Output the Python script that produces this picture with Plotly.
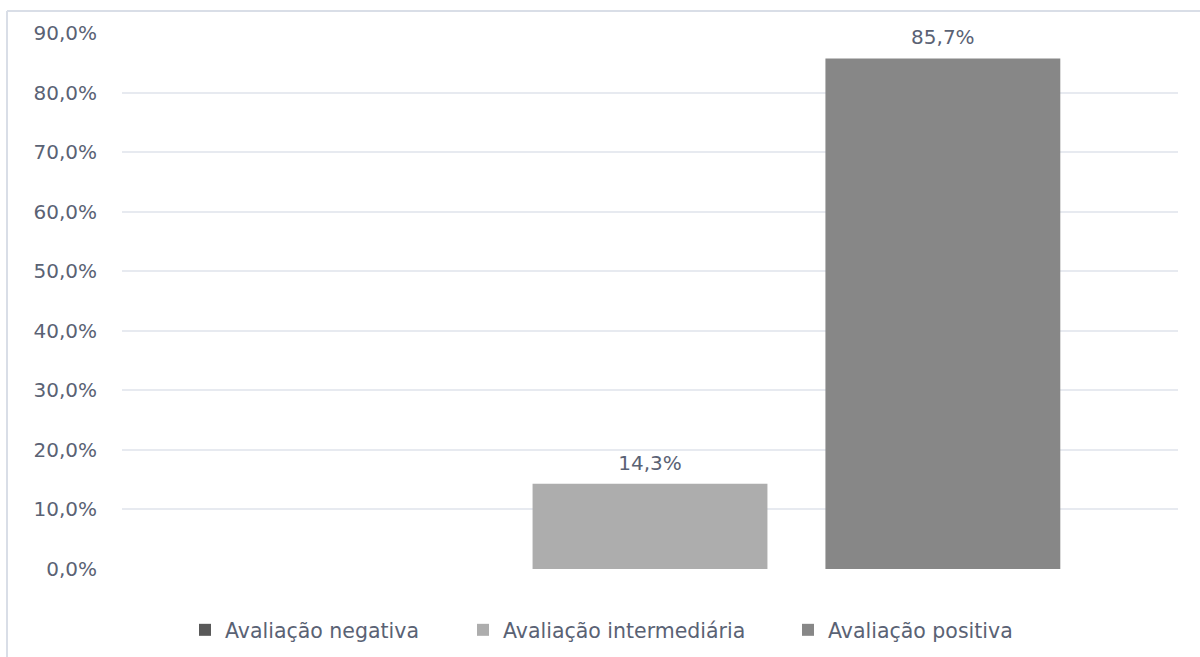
import plotly.graph_objects as go

# Survey outcome shares (fractions of respondents)
series_names = ["Avaliação negativa", "Avaliação intermediária", "Avaliação positiva"]
series_values = [0.0, 0.143, 0.857]
series_colors = ["#595959", "#adadad", "#878787"]
category = ["Avaliação"]

y_ticks = [i / 10 for i in range(10)]

# each series gets its own legend so the entries can be spaced individually
legend_ids = ["legend", "legend2", "legend3"]
legend_left_px = [185, 463, 788]

PLOT_L, PLOT_R, PLOT_T, PLOT_B = 122, 22, 33, 88
W, H = 1200, 657
plot_w = W - PLOT_L - PLOT_R
plot_h = H - PLOT_T - PLOT_B
TEXT = "#5a6274"
FONT = "DejaVu Sans"
BARGAP = 0.168

fig = go.Figure()
for name, val, col, lg in zip(series_names, series_values, series_colors, legend_ids):
    fig.add_trace(go.Bar(
        x=category,
        y=[val],
        name=name,
        legend=lg,
        marker=dict(color=col, line=dict(width=0)),
        hoverinfo="skip",
    ))

# value labels above the bars, grouped the same way as the bars
for name, val in zip(series_names, series_values):
    label = f"{val * 100:.1f}%".replace(".", ",") if val > 0 else ""
    fig.add_trace(go.Scatter(
        x=category,
        y=[val],
        mode="markers+text",
        text=[label],
        textposition="top center",
        marker=dict(size=13, opacity=0),
        textfont=dict(family=FONT, size=20, color=TEXT),
        showlegend=False,
        cliponaxis=False,
        hoverinfo="skip",
        name=name,
    ))

legend_y = -(630 - (H - PLOT_B)) / plot_h
legends = {}
for lg, left in zip(legend_ids, legend_left_px):
    legends[lg] = dict(
        orientation="h",
        x=(left - PLOT_L) / plot_w,
        xanchor="left",
        y=legend_y,
        yanchor="middle",
        font=dict(family=FONT, size=20.5, color=TEXT),
        itemwidth=30,
        bgcolor="rgba(0,0,0,0)",
    )

border_top = (H - 11 - PLOT_B) / plot_h
border_left = (7 - PLOT_L) / plot_w

fig.update_layout(
    width=W,
    height=H,
    margin=dict(l=PLOT_L, r=PLOT_R, t=PLOT_T, b=PLOT_B, autoexpand=False),
    paper_bgcolor="white",
    plot_bgcolor="white",
    barmode="group",
    bargap=BARGAP,
    bargroupgap=0.198,
    scattermode="group",
    scattergap=BARGAP,
    separators=", ",
    font=dict(family=FONT, color=TEXT),
    showlegend=True,
    xaxis=dict(showticklabels=False, showgrid=False, zeroline=False, showline=False, ticks=""),
    yaxis=dict(
        range=[0, 0.9],
        tickvals=y_ticks,
        tickformat=".1%",
        showgrid=True,
        gridcolor="#e7eaf0",
        gridwidth=1.5,
        zeroline=False,
        showline=False,
        ticks="",
        ticklabelstandoff=24,
        tickfont=dict(family=FONT, size=20, color=TEXT),
    ),
    shapes=[
        dict(type="line", xref="paper", yref="paper",
             x0=border_left, x1=1.03, y0=border_top, y1=border_top,
             line=dict(color="#d9dee7", width=2)),
        dict(type="line", xref="paper", yref="paper",
             x0=border_left, x1=border_left, y0=-0.2, y1=border_top,
             line=dict(color="#d9dee7", width=2)),
    ],
    **legends,
)

fig.write_html("out.html")
